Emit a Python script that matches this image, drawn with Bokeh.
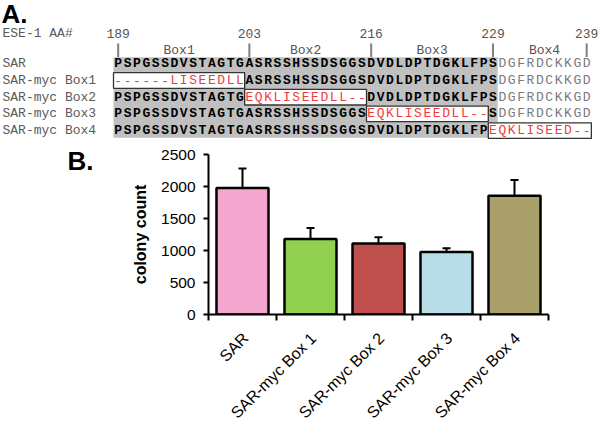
import math
from bokeh.plotting import figure
from bokeh.models import Range1d, FixedTicker, Whisker, TeeHead, ColumnDataSource
from bokeh.layouts import column, row
from bokeh.embed import file_html
from bokeh.resources import INLINE
from bokeh.core.properties import value

# ---------------- Panel A data ----------------
RES_START = 189
SAR_SEQ = "PSPGSSDVSTAGTGASRSSHSSDSGGSDVDLDPTDGKLFPSDGFRDCKKGD"
CONSERVED_END = 229
TICK_RESIDUES = [189, 203, 216, 229, 239]
BOX_NAMES = ["Box1", "Box2", "Box3", "Box4"]
BOX_FIRST = [189, 203, 216, 230]
BOX_LAST = [202, 215, 229, 239]
ROW_LABELS = ["SAR", "SAR-myc Box1", "SAR-myc Box2", "SAR-myc Box3", "SAR-myc Box4"]
INSERTS = ["", "------LISEEDLL", "EQKLISEEDLL--", "EQKLISEEDLL--", "EQKLISEED--"]
INSERT_STARTS = [0, 189, 203, 216, 229]

# ---------------- Panel B data ----------------
CONSTRUCTS = ["SAR", "SAR-myc Box 1", "SAR-myc Box 2", "SAR-myc Box 3", "SAR-myc Box 4"]
COUNTS = [1975, 1180, 1110, 975, 1855]
ERRORS = [305, 172, 96, 62, 247]
COLORS = ["#F4A6CF", "#92D050", "#C0504D", "#B7DEE8", "#A9A06B"]
Y_TICKS = [0, 500, 1000, 1500, 2000, 2500]

W = 600
HA = 142
HB = 180
HC = 421 - HA - HB
LEFT_W = 126          # width of the small "B." cell
FRAME_LEFT = 208      # page x of the bar chart's y axis
FRAME_W = 340

MONO = value("Liberation Mono")
SANS = value("Liberation Sans")

def bare(fig):
    fig.outline_line_color = None
    fig.frame_align = False
    fig.border_fill_color = None
    fig.background_fill_color = None
    return fig

# ---------------- Panel A figure ----------------
PX_PER_RES = 9.37
SEQ_LEFT_PX = 113
x0 = RES_START - 0.5 - SEQ_LEFT_PX / PX_PER_RES
x1 = x0 + W / PX_PER_RES
ROW_PX = 16.7
ROW0_PX = 63.3
y_top = -ROW0_PX / ROW_PX
y_bot = (HA - ROW0_PX) / ROW_PX

pa = bare(figure(width=W, height=HA, x_range=Range1d(x0, x1), y_range=Range1d(y_bot, y_top),
                 output_backend="svg", toolbar_location=None, min_border=0,
                 x_axis_type=None, y_axis_type=None))

pa.quad(left=RES_START - 0.5, right=CONSERVED_END + 0.5, top=-0.395, bottom=4.431,
        fill_color="#c0c0c0", line_color=None)

bl, br, bt, bb = [], [], [], []
for r, (ins, st) in enumerate(zip(INSERTS, INSERT_STARTS)):
    if ins:
        bl.append(st - 0.5)
        br.append(st + len(ins) - 0.5)
        bt.append(r - 0.467)
        bb.append(r + 0.467)
pa.quad(left=bl, right=br, top=bt, bottom=bb, fill_color="white",
        line_color="#333333", line_width=1.3)

groups = {"bold": ([], [], []), "light": ([], [], []), "red": ([], [], [])}
for r, (ins, st) in enumerate(zip(INSERTS, INSERT_STARTS)):
    for i, aa in enumerate(SAR_SEQ):
        res = RES_START + i
        if ins and st <= res < st + len(ins):
            ch, style = ins[res - st], "red"
        else:
            ch, style = aa, ("bold" if res <= CONSERVED_END else "light")
        g = groups[style]
        g[0].append(res); g[1].append(r); g[2].append(ch)

pa.text(x=groups["bold"][0], y=groups["bold"][1], text=groups["bold"][2],
        text_font=MONO, text_font_size="13px", text_font_style="bold",
        text_color="black", text_align="center", text_baseline="middle")
pa.text(x=groups["light"][0], y=groups["light"][1], text=groups["light"][2],
        text_font=MONO, text_font_size="13px", text_color="#7a7a7a",
        text_align="center", text_baseline="middle")
pa.text(x=groups["red"][0], y=groups["red"][1], text=groups["red"][2],
        text_font=MONO, text_font_size="13px", text_color="#f03c3c",
        text_align="center", text_baseline="middle")

ROW_NUM = (32.5 - ROW0_PX) / ROW_PX
ROW_BOX = (49.5 - ROW0_PX) / ROW_PX
pa.segment(x0=TICK_RESIDUES, y0=[(43 - ROW0_PX) / ROW_PX] * len(TICK_RESIDUES), x1=TICK_RESIDUES,
           y1=[-0.40] * len(TICK_RESIDUES), line_color="#7f7f7f", line_width=2)
pa.text(x=TICK_RESIDUES, y=[ROW_NUM] * len(TICK_RESIDUES), text=[str(t) for t in TICK_RESIDUES],
        text_font=MONO, text_font_size="13px", text_color="#555555",
        text_align="center", text_baseline="middle")
pa.text(x=[(a + b) / 2 for a, b in zip(BOX_FIRST, BOX_LAST)], y=[ROW_BOX] * 4, text=BOX_NAMES,
        text_font=MONO, text_font_size="13px", text_color="#555555",
        text_align="center", text_baseline="middle")

pa.text(x=[x0 + 2 / PX_PER_RES] * 6, y=[ROW_NUM] + list(range(len(ROW_LABELS))),
        text=["ESE-1 AA#"] + ROW_LABELS, text_font=MONO, text_font_size="13px",
        text_color="#5a5a5a", text_align="left", text_baseline="middle")

pa.text(x=[x0 + 1 / PX_PER_RES], y=[(13.5 - ROW0_PX) / ROW_PX], text=["A."], text_font=SANS,
        text_font_size="26px", text_font_style="bold", text_color="black",
        text_align="left", text_baseline="middle")

# ---------------- Panel B: "B." cell ----------------
pl = bare(figure(width=LEFT_W, height=40, x_range=Range1d(0, LEFT_W), y_range=Range1d(40, 0),
                 output_backend="svg", toolbar_location=None, min_border=0,
                 x_axis_type=None, y_axis_type=None))
pl.text(x=[67], y=[18], text=["B."], text_font=SANS, text_font_size="26px",
        text_font_style="bold", text_color="black", text_align="left", text_baseline="middle")

# ---------------- Panel B: bar chart ----------------
n = len(CONSTRUCTS)
centers = [i + 0.5 for i in range(n)]
src = ColumnDataSource(dict(x=centers, top=COUNTS, color=COLORS, name=CONSTRUCTS,
                            upper=[c + e for c, e in zip(COUNTS, ERRORS)],
                            lower=[c - e for c, e in zip(COUNTS, ERRORS)]))

xr = Range1d(0, n)
pb = bare(figure(width=W - LEFT_W, height=HB, x_range=xr, y_range=Range1d(Y_TICKS[0], Y_TICKS[-1]),
                 output_backend="svg", toolbar_location=None,
                 min_border_left=FRAME_LEFT - LEFT_W, min_border_right=W - FRAME_LEFT - FRAME_W,
                 min_border_top=12, min_border_bottom=8))
pb.xgrid.visible = False
pb.ygrid.visible = False

pb.vbar(x="x", top="top", bottom=0, width=0.765, source=src, fill_color="color",
        line_color="black", line_width=2.5)
pb.add_layout(Whisker(source=src, base="x", upper="upper", lower="lower",
                      line_color="black", line_width=2,
                      upper_head=TeeHead(size=8, line_width=2, line_color="black"),
                      lower_head=TeeHead(size=8, line_width=2, line_color="black")))

ya = pb.yaxis[0]
ya.ticker = FixedTicker(ticks=Y_TICKS)
ya.axis_line_width = 2
ya.axis_line_color = "black"
ya.major_tick_line_width = 2
ya.major_tick_in = 0
ya.major_tick_out = 5
ya.minor_tick_line_color = None
ya.major_label_text_font = "Liberation Sans"
ya.major_label_text_font_size = "15.5px"
ya.major_label_text_color = "black"
ya.major_label_standoff = 8
ya.axis_label = "colony count"
ya.axis_label_text_font = "Liberation Sans"
ya.axis_label_text_font_size = "16px"
ya.axis_label_text_font_style = "bold"
ya.axis_label_text_color = "black"
ya.axis_label_standoff = 9

xa = pb.xaxis[0]
xa.ticker = FixedTicker(ticks=[], minor_ticks=list(range(n + 1)))
xa.axis_line_width = 2
xa.axis_line_color = "black"
xa.major_tick_in = 0
xa.major_tick_out = 0
xa.major_label_standoff = 0
xa.minor_tick_in = 0
xa.minor_tick_out = 6
xa.minor_tick_line_width = 2
xa.minor_tick_line_color = "black"

# ---------------- Panel B: category labels (same horizontal scale as the bars) ----------------
unit = FRAME_W / n
pc = bare(figure(width=W, height=HC,
                 x_range=Range1d(-FRAME_LEFT / unit, n + (W - FRAME_LEFT - FRAME_W) / unit),
                 y_range=Range1d(-HC, 0),
                 output_backend="svg", toolbar_location=None, min_border=0,
                 x_axis_type=None, y_axis_type=None))
pc.text(x="x", y=-13, text="name", source=ColumnDataSource(dict(x=[c + 3 / unit for c in centers],
                                                                 name=CONSTRUCTS)),
        angle=math.pi / 4, text_font=SANS, text_font_size="16px", text_color="black",
        text_align="right", text_baseline="middle")

layout = column(pa, row(pl, pb, spacing=0), pc, spacing=0)
open("out.html", "w").write(file_html(layout, INLINE))
